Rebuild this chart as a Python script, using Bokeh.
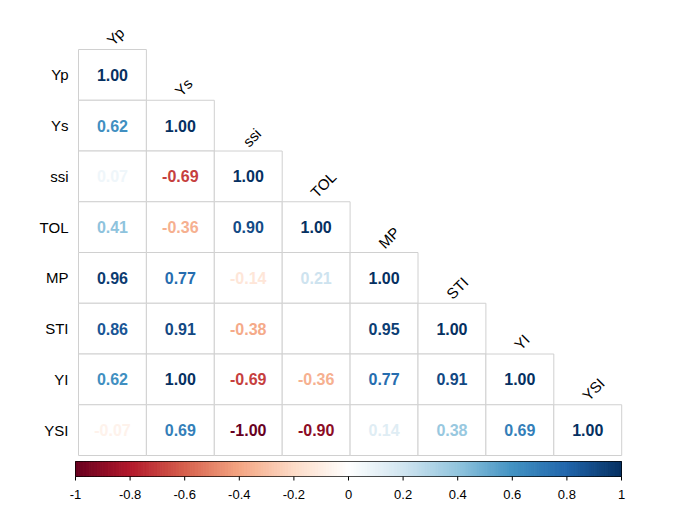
import numpy as np
from bokeh.plotting import figure
from bokeh.models import Range1d, ColumnDataSource
from bokeh.core.properties import value
from bokeh.embed import file_html
from bokeh.resources import INLINE

# ---- data ----
labels = ["Yp", "Ys", "ssi", "TOL", "MP", "STI", "YI", "YSI"]
corr_rows = [
    [1.00],
    [0.62, 1.00],
    [0.07, -0.69, 1.00],
    [0.41, -0.36, 0.90, 1.00],
    [0.96, 0.77, -0.14, 0.21, 1.00],
    [0.86, 0.91, -0.38, 0.00, 0.95, 1.00],
    [0.62, 1.00, -0.69, -0.36, 0.77, 0.91, 1.00],
    [-0.07, 0.69, -1.00, -0.90, 0.14, 0.38, 0.69, 1.00],
]
cb_ticks = [-1, -0.8, -0.6, -0.4, -0.2, 0, 0.2, 0.4, 0.6, 0.8, 1]
cb_tick_labels = ["-1", "-0.8", "-0.6", "-0.4", "-0.2", "0", "0.2", "0.4", "0.6", "0.8", "1"]

# RdBu palette (corrplot COL2)
rdbu = ["#67001F", "#B2182B", "#D6604D", "#F4A582", "#FDDBC7", "#FFFFFF",
        "#D1E5F0", "#92C5DE", "#4393C3", "#2166AC", "#053061"]
rgb = np.array([[int(c[i:i + 2], 16) for i in (1, 3, 5)] for c in rdbu], dtype=float)
stops = np.linspace(-1, 1, len(rdbu))


def col(v):
    r = np.interp(v, stops, rgb[:, 0])
    g = np.interp(v, stops, rgb[:, 1])
    b = np.interp(v, stops, rgb[:, 2])
    return "#%02x%02x%02x" % (int(round(r)), int(round(g)), int(round(b)))


# ---- geometry (pixels) ----
W, H = 679, 510
X0, CW = 78.0, 67.9   # left of grid, cell width
Y0, CH = 49.0, 50.75  # top of grid, cell height

fig = figure(width=W, height=H, output_backend="svg", toolbar_location=None,
             x_range=Range1d(-X0 / CW, (W - X0) / CW),
             y_range=Range1d((H - Y0) / CH, -Y0 / CH),
             min_border=0, min_border_left=0, min_border_right=0,
             min_border_top=0, min_border_bottom=0)
fig.axis.visible = False
fig.grid.visible = False
fig.outline_line_color = None
fig.background_fill_color = "white"

FONT = "Liberation Sans"
n = len(labels)

# cells
xs, ys, txt, tcol = [], [], [], []
for i, row in enumerate(corr_rows):
    for j, v in enumerate(row):
        xs.append(j + 0.5)
        ys.append(i + 0.5)
        txt.append("%.2f" % v)
        tcol.append(col(v))
src = ColumnDataSource(dict(x=xs, y=ys, t=txt, c=tcol))
fig.rect(x="x", y="y", width=1, height=1, source=src, fill_color="white",
         line_color="#d0d0d0", line_width=1)
fig.text(x="x", y="y", text="t", text_color="c", source=src,
         text_font=value(FONT), text_font_size="16px", text_font_style="bold",
         text_align="center", text_baseline="middle")

# row labels
fig.text(x=[-10 / CW] * n, y=[i + 0.5 for i in range(n)], text=labels,
         text_font=value(FONT), text_font_size="15px", text_color="black",
         text_align="right", text_baseline="middle")

# column labels (rotated 45 deg, reading upward)
fig.text(x=[j + 0.5 + 3 / CW for j in range(n)], y=[j - 1 / CH for j in range(n)],
         text=labels, angle=np.pi / 4,
         text_font=value(FONT), text_font_size="15px", text_color="black",
         text_align="left", text_baseline="bottom")

# colour bar
cb_l = (75 - X0) / CW
cb_r = (621 - X0) / CW
cb_t = (461 - Y0) / CH
cb_b = (476 - Y0) / CH
grad = np.linspace(-1, 1, 201)
mid = (grad[:-1] + grad[1:]) / 2
gcols = [col(m) for m in mid]
fig.quad(left=[cb_l + (a + 1) / 2 * (cb_r - cb_l) for a in grad[:-1]],
         right=[cb_l + (b + 1) / 2 * (cb_r - cb_l) for b in grad[1:]],
         top=cb_t, bottom=cb_b, fill_color=gcols, line_color=gcols, line_width=1)
fig.quad(left=cb_l, right=cb_r, top=cb_t, bottom=cb_b, fill_color=None,
         line_color="black", line_width=0.7)
tx = [cb_l + (t + 1) / 2 * (cb_r - cb_l) for t in cb_ticks]
fig.segment(x0=tx, x1=tx, y0=cb_b, y1=cb_b + 4 / CH, line_color="black", line_width=1)
fig.text(x=tx, y=[cb_b + 18 / CH] * len(tx), text=cb_tick_labels,
         text_font=value(FONT), text_font_size="13px", text_color="black",
         text_align="center", text_baseline="middle")

open("out.html", "w").write(file_html(fig, INLINE))
